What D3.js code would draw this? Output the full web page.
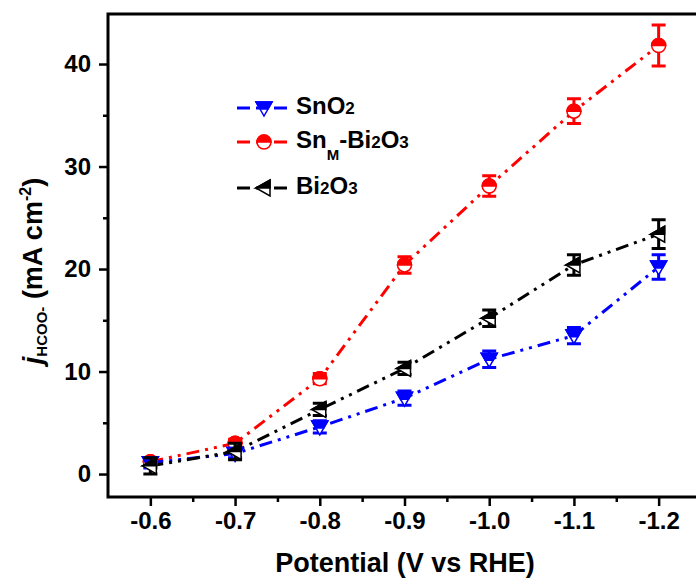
<!DOCTYPE html>
<html lang="en">
<head>
<meta charset="UTF-8">
<title>j HCOO- vs potential</title>
<script src="https://d3js.org/d3.v7.min.js"></script>
<style>
  body { margin: 0; background: #fff; }
  svg { font-family: Arial, "Liberation Sans", sans-serif; font-weight: bold; }
</style>
</head>
<body>
<div id="chart"></div>
<script>
const potential = [-0.6, -0.7, -0.8, -0.9, -1.0, -1.1, -1.2];
const sno2 = [1.1, 2.0, 4.6, 7.4, 11.2, 13.5, 20.2];
const sno2Err = [0.5, 0.4, 0.6, 0.7, 0.8, 0.8, 1.2];
const snmBi = [1.2, 3.0, 9.3, 20.4, 28.1, 35.4, 41.8];
const snmBiErr = [0.4, 0.4, 0.5, 0.8, 1.0, 1.2, 2.0];
const bi2o3 = [0.8, 2.2, 6.3, 10.3, 15.2, 20.4, 23.4];
const bi2o3Err = [0.8, 0.8, 0.6, 0.6, 0.8, 1.0, 1.4];

const xTicks = [-0.6, -0.7, -0.8, -0.9, -1.0, -1.1, -1.2];
const xMinor = [-0.65, -0.75, -0.85, -0.95, -1.05, -1.15];
const yTicks = [0, 10, 20, 30, 40];
const yMinor = [5, 15, 25, 35];

const w = 696, h = 578;
const pLeft = 108, pRight = 701, pTop = 14, pBottom = 497;

const svg = d3.select('#chart').append('svg')
    .attr('width', w).attr('height', h);

const x = d3.scaleLinear().domain([-0.55, -1.25]).range([pLeft, pRight]);
const y = d3.scaleLinear().domain([-2.24, 44.88]).range([pBottom, pTop]);

// axes
const xAxis = d3.axisBottom(x).tickValues(xTicks).tickSize(9).tickPadding(6)
    .tickFormat(d => d.toFixed(1));
const yAxis = d3.axisLeft(y).tickValues(yTicks).tickSize(9).tickPadding(8)
    .tickFormat(d3.format('d'));

svg.append('g').attr('transform', `translate(0,${pBottom})`).call(xAxis);
svg.append('g').attr('transform', `translate(${pLeft},0)`).call(yAxis);
svg.append('g').attr('transform', `translate(0,${pBottom})`)
    .call(d3.axisBottom(x).tickValues(xMinor).tickSize(5).tickFormat(''));
svg.append('g').attr('transform', `translate(${pLeft},0)`)
    .call(d3.axisLeft(y).tickValues(yMinor).tickSize(5).tickFormat(''));

svg.selectAll('.domain').remove();
svg.selectAll('.tick line').attr('stroke', '#000').attr('stroke-width', 2.5);
svg.selectAll('.tick text').attr('font-size', 24).attr('font-weight', 'bold')
    .attr('font-family', 'Arial, "Liberation Sans", sans-serif').attr('fill', '#000');

// frame
svg.append('path')
    .attr('d', `M${pLeft},${pBottom}H${pRight}M${pLeft},${pBottom + 1.5}V${pTop}M${pLeft - 1.5},${pTop}H${pRight}`)
    .attr('stroke', '#000').attr('stroke-width', 3).attr('fill', 'none');

// axis titles
svg.append('text').attr('x', 405).attr('y', 572).attr('text-anchor', 'middle')
    .attr('font-size', 27).text('Potential (V vs RHE)');

const yt = svg.append('text').attr('transform', 'translate(42,271) rotate(-90)')
    .attr('text-anchor', 'middle').attr('font-size', 27);
yt.append('tspan').attr('font-style', 'italic').text('j');
yt.append('tspan').attr('font-size', 15).attr('dy', 5).text('HCOO-');
yt.append('tspan').attr('dy', -5).text(' (mA cm');
yt.append('tspan').attr('font-size', 16).attr('dy', -11).text('-2');
yt.append('tspan').attr('dy', 11).text(')');

// markers: top half filled
function marker(g, type, color) {
  if (type === 'circle') {
    g.append('circle').attr('r', 7).attr('fill', '#fff').attr('stroke', color).attr('stroke-width', 1.5);
    g.append('path').attr('d', 'M-7,0A7,7 0 0 1 7,0Z').attr('fill', color).attr('stroke', color).attr('stroke-width', 1.5);
  } else if (type === 'down') {
    g.append('path').attr('d', 'M-8,-6L8,-6L0,8Z').attr('fill', '#fff').attr('stroke', color).attr('stroke-width', 1.5);
    g.append('path').attr('d', 'M-8,-6L8,-6L4,1L-4,1Z').attr('fill', color).attr('stroke', color).attr('stroke-width', 1.5);
  } else {
    g.append('path').attr('d', 'M-8,0L6,-8L6,8Z').attr('fill', '#fff').attr('stroke', color).attr('stroke-width', 1.5);
    g.append('path').attr('d', 'M-8,0L6,-8L6,0Z').attr('fill', color).attr('stroke', color).attr('stroke-width', 1.5);
  }
}

const series = [
  { name: 'red', values: snmBi, err: snmBiErr, color: '#ff0000', type: 'circle' },
  { name: 'blue', values: sno2, err: sno2Err, color: '#0000ff', type: 'down' },
  { name: 'black', values: bi2o3, err: bi2o3Err, color: '#000000', type: 'left' }
];

const dash = '13,6,3,6,3,6';
const line = d3.line().x(d => x(d[0])).y(d => y(d[1]));

series.forEach(s => {
  const pts = potential.map((p, i) => [p, s.values[i], s.err[i]]);
  svg.append('path').datum(pts).attr('d', line)
      .attr('fill', 'none').attr('stroke', s.color).attr('stroke-width', 3)
      .attr('stroke-dasharray', dash);
});

series.forEach(s => {
  const pts = potential.map((p, i) => [p, s.values[i], s.err[i]]);
  const g = svg.append('g');
  g.selectAll('path.err').data(pts).enter().append('path')
      .attr('class', 'err')
      .attr('d', d => {
        const cx = x(d[0]), y1 = y(d[1] + d[2]), y2 = y(d[1] - d[2]);
        return `M${cx},${y1}V${y2}M${cx - 7},${y1}H${cx + 7}M${cx - 7},${y2}H${cx + 7}`;
      })
      .attr('stroke', s.color).attr('stroke-width', 3).attr('fill', 'none');
  pts.forEach(d => {
    marker(g.append('g').attr('transform', `translate(${x(d[0])},${y(d[1])})`), s.type, s.color);
  });
});

// legend
const legendItems = [
  { color: '#0000ff', type: 'down', y: 108, parts: [['Sn', 0], ['O', 0], ['2', 1]] },
  { color: '#ff0000', type: 'circle', y: 142, parts: [['Sn', 0], ['M', 2], ['-Bi', 0], ['2', 1], ['O', 0], ['3', 1]] },
  { color: '#000000', type: 'left', y: 188, parts: [['Bi', 0], ['2', 1], ['O', 0], ['3', 1]] }
];
legendItems.forEach(it => {
  svg.append('line').attr('x1', 237).attr('x2', 292).attr('y1', it.y).attr('y2', it.y)
      .attr('stroke', it.color).attr('stroke-width', 3).attr('stroke-dasharray', dash);
  marker(svg.append('g').attr('transform', `translate(264,${it.y})`), it.type, it.color);
  const t = svg.append('text').attr('x', 296).attr('y', it.y + 6).attr('font-size', 24);
  let shift = 0;
  it.parts.forEach(p => {
    const sp = t.append('tspan').text(p[0]);
    const target = p[1] === 2 ? 12 : 0;
    if (p[1] > 0) sp.attr('font-size', p[1] === 2 ? 15 : 17);
    if (target !== shift) { sp.attr('dy', target - shift); shift = target; }
  });
});
</script>
</body>
</html>
